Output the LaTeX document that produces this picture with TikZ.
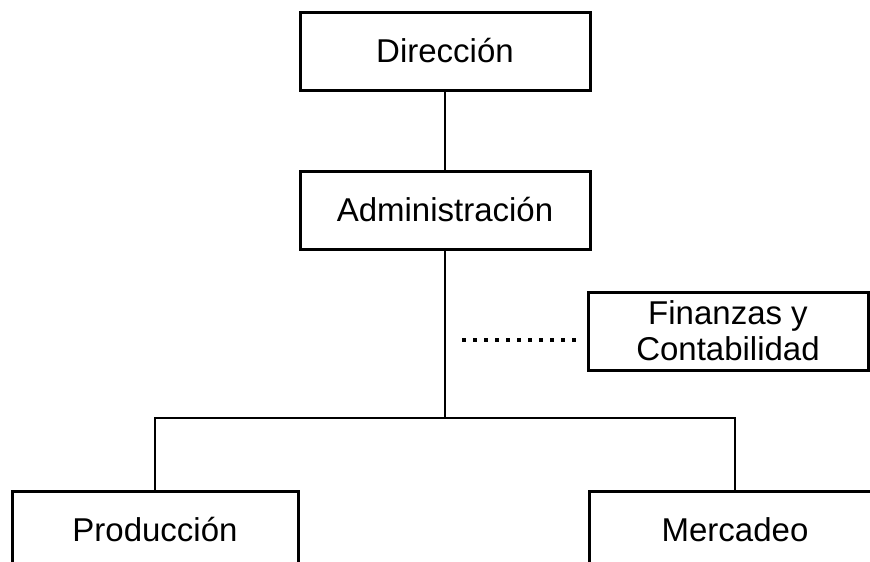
\documentclass[tikz,border=0pt]{standalone}
\usepackage{fontspec}
\setmainfont{Liberation Sans}
\begin{document}
\begin{tikzpicture}[x=1pt,y=-1pt,
  box/.style={draw=black, line width=3pt, fill=white, minimum width=#1, minimum height=78pt, inner sep=0pt, align=center, font=\fontsize{33}{36}\selectfont},
  conn/.style={line width=2.5pt},
  dots/.style={line width=4pt, dash pattern=on 4pt off 7pt}]
\useasboundingbox (0,0) rectangle (870,562);
\clip (0,0) rectangle (870,562);
\node[box=290pt] (dir) at (445,51) {Dirección};
\node[box=290pt] (adm) at (445,210) {Administración};
\node[box=280pt] (fin) at (728,331) {Finanzas y\\Contabilidad};
\node[box=286pt] (prod) at (155,530) {Producción};
\node[box=292pt] (merc) at (735,530) {Mercadeo};
\coordinate (j) at (445,418);
\coordinate (jl) at (155,418);
\coordinate (jr) at (735,418);
\coordinate (d1) at (462,340);
\coordinate (d2) at (577,340);
\draw[conn] (dir) -- (adm);
\draw[conn] (adm) -- (j);
\draw[conn, line join=miter] (prod.north) -- (jl) -- (jr) -- (merc.north);
\draw[dots] (d1) -- (d2);
\end{tikzpicture}
\end{document}
